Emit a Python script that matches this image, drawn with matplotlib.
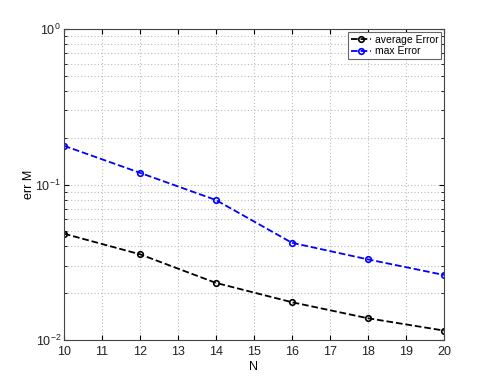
import numpy as np
import matplotlib
matplotlib.use('Agg')
import matplotlib.pyplot as plt
from matplotlib.ticker import LogLocator

plt.rcParams['font.family'] = ['Liberation Sans', 'DejaVu Sans']
plt.rcParams['mathtext.fontset'] = 'custom'
plt.rcParams['mathtext.rm'] = 'Liberation Sans'
plt.rcParams['mathtext.it'] = 'Liberation Sans:italic'
plt.rcParams['mathtext.bf'] = 'Liberation Sans:bold'

N = [10, 12, 14, 16, 18, 20]
avg_err = [0.0483, 0.0356, 0.0233, 0.0175, 0.0138, 0.0115]
max_err = [0.1776, 0.119, 0.0795, 0.0422, 0.033, 0.0262]

fig = plt.figure(figsize=(4.91, 3.82), dpi=100)
ax = fig.add_axes([0.130, 0.110, 0.774, 0.814])

ax.semilogy(N, avg_err, 'k--o', lw=1.3, ms=4, mfc='none', mew=1.2, label='average Error')
ax.semilogy(N, max_err, 'b--o', lw=1.3, ms=4, mfc='none', mew=1.2, label='max Error')

ax.set_xlim(10, 20)
ax.set_ylim(1e-2, 1)
ax.set_xticks(range(10, 21))
ax.yaxis.set_major_locator(LogLocator(base=10))
ax.yaxis.set_minor_locator(LogLocator(base=10, subs=np.arange(2, 10)))
ax.grid(True, which='both', linestyle=(0, (1, 2)), color='#bbbbbb', lw=0.8)
ax.tick_params(which='both', direction='in', top=True, right=True, labelsize=9,
               labelcolor='#222222')
ax.tick_params(axis='y', pad=2)
ax.tick_params(axis='x', pad=4.5)
ax.set_xlabel('N', fontsize=9)
ax.xaxis.set_label_coords(0.5, -0.068)
ax.set_ylabel('err M', fontsize=9)
ax.yaxis.set_label_coords(-0.075, 0.5)
for s in ax.spines.values():
    s.set_color('#444444')

leg = ax.legend(loc='upper right', fontsize=7.5, fancybox=False, framealpha=1,
                edgecolor='#666666', handlelength=2.0, handletextpad=0.3,
                borderpad=0.25, labelspacing=0.15, borderaxespad=0.3)
leg.get_frame().set_linewidth(0.8)

fig.savefig('out.png', dpi=100)
